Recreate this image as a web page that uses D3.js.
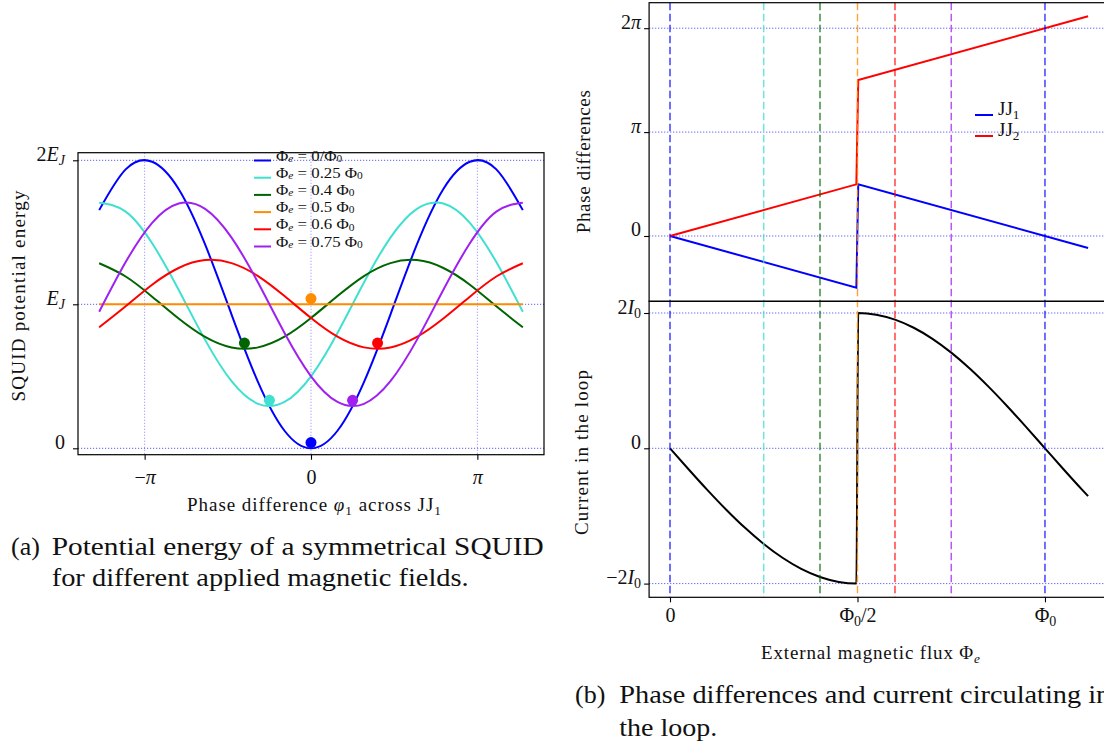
<!DOCTYPE html>
<html>
<head>
<meta charset="utf-8">
<script src="https://cdn.jsdelivr.net/npm/d3@7"></script>
<style>
  body { margin: 0; background: #fff; }
  svg { display: block; }
  text { font-family: "Liberation Serif", "DejaVu Serif", serif; fill: #111; }
</style>
</head>
<body>
<div id="chart"></div>
<script>
// ---------- (a) potential energy, in units of E_J, vs phase phi1 (rad)
const phi = [-4, -3.5, -3, -2.5, -2, -1.5, -1, -0.5, 0, 0.5, 1, 1.5, 2, 2.5, 3, 3.5, 4];
const u000 = [1.654, 1.937, 1.990, 1.801, 1.416, 0.929, 0.460, 0.122, 0, 0.122, 0.460, 0.929, 1.416, 1.801, 1.990, 1.937, 1.654];
const u025 = [1.705, 1.644, 1.424, 1.101, 0.753, 0.466, 0.309, 0.322, 0.500, 0.801, 1.151, 1.463, 1.663, 1.700, 1.566, 1.293, 0.948];
const u040 = [1.285, 1.193, 1.053, 0.901, 0.773, 0.700, 0.701, 0.775, 0.905, 1.057, 1.196, 1.286, 1.307, 1.252, 1.136, 0.986, 0.840];
const u050 = [1, 1, 1, 1, 1, 1, 1, 1, 1, 1, 1, 1, 1, 1, 1, 1, 1];
const u060 = [0.840, 0.986, 1.136, 1.252, 1.307, 1.286, 1.196, 1.057, 0.905, 0.775, 0.701, 0.700, 0.773, 0.901, 1.053, 1.193, 1.285];
const u075 = [0.948, 1.293, 1.566, 1.700, 1.663, 1.463, 1.151, 0.801, 0.500, 0.322, 0.309, 0.466, 0.753, 1.101, 1.424, 1.644, 1.705];
const energySeries = [u000, u025, u040, u050, u060, u075];
const fluxValues = ["0/", "0.25 ", "0.4 ", "0.5 ", "0.6 ", "0.75 "];
const colors = ["#0000ff", "#40e0d0", "#006400", "#ff8c00", "#ff0000", "#a020f0"];
// minimum of each well (ball sitting in it)
const minPhi = [0, -0.785, -1.257, 0, 1.257, 0.785];
const minU = [0.04, 0.333, 0.731, 1.04, 0.731, 0.333];

// ---------- (b) phases (units of pi) and loop current (units of I0) vs flux (units of Phi0)
const fluxPhase = [0, 0.497, 0.502, 1.115];
const phaseJJ1 = [0, -0.497, 0.498, -0.115];
const phaseJJ2 = [0, 0.497, 1.502, 2.115];
const fluxCurrent = [0, 0.05, 0.1, 0.15, 0.2, 0.25, 0.3, 0.35, 0.4, 0.45, 0.497,
                     0.502, 0.55, 0.6, 0.65, 0.7, 0.75, 0.8, 0.85, 0.9, 0.95, 1.0, 1.05, 1.1, 1.115];
const current = [0, -0.313, -0.618, -0.908, -1.176, -1.414, -1.618, -1.782, -1.902, -1.975, -2.0,
                 2.0, 1.975, 1.902, 1.782, 1.618, 1.414, 1.176, 0.908, 0.618, 0.313, 0, -0.313, -0.618, -0.707];
const markFlux = [0, 0.25, 0.4, 0.5, 0.6, 0.75, 1];
const markColors = ["#0000ff", "#40e0d0", "#006400", "#ff8c00", "#ff0000", "#a020f0", "#0000ff"];

const W = 1104, H = 747;
const TICK_FS = 20;
const svg = d3.select("#chart").append("svg")
    .attr("width", W)
    .attr("height", H);

// write text with italic / subscript pieces
function setMath(t, parts, fs, subShift, subSize) {
  subShift = subShift === undefined ? 0.2 : subShift;
  subSize = subSize || 0.7;
  t.text(null);
  let shift = 0;
  parts.forEach(function(p) {
    const st = p[1] || "";
    const sub = st.indexOf("s") >= 0;
    const target = sub ? fs * subShift : 0;
    t.append("tspan")
      .text(p[0])
      .attr("dy", target - shift)
      .attr("font-size", sub ? fs * subSize : fs)
      .attr("font-style", st.indexOf("i") >= 0 ? "italic" : "normal");
    shift = target;
  });
}

function gridLine(g, x1, y1, x2, y2, op) {
  g.append("line")
    .attr("x1", x1).attr("y1", y1).attr("x2", x2).attr("y2", y2)
    .style("stroke", "#0000ff")
    .style("stroke-opacity", op)
    .style("stroke-width", 1)
    .style("stroke-dasharray", "1.2,1.8");
}

/* ======================= (a) ======================= */
const xL = d3.scaleLinear().domain([-4.4, 4.4]).range([78, 544]);
const yL = d3.scaleLinear().domain([-0.0444, 2.0528]).range([454.7, 152.7]);

const gA = svg.append("g");
[-Math.PI, 0, Math.PI].forEach(v => gridLine(gA, xL(v), yL.range()[1], xL(v), yL.range()[0], 0.4));
[0, 1, 2].forEach(v => gridLine(gA, xL.range()[0], yL(v), xL.range()[1], yL(v), 0.65));

const lineA = d3.line()
    .x((d, i) => xL(phi[i]))
    .y(d => yL(d))
    .curve(d3.curveNatural);

gA.selectAll("path.energy")
    .data(energySeries)
    .enter().append("path")
    .attr("class", "energy")
    .attr("d", lineA)
    .style("fill", "none")
    .style("stroke", (d, i) => colors[i])
    .style("stroke-width", 2);

gA.selectAll("circle")
    .data(minPhi)
    .enter().append("circle")
    .attr("cx", d => xL(d))
    .attr("cy", (d, i) => yL(minU[i]))
    .attr("r", 5.5)
    .style("fill", (d, i) => colors[i]);

gA.append("rect")
    .attr("x", 78).attr("y", 152.7)
    .attr("width", 466).attr("height", 302)
    .style("fill", "none").style("stroke", "#000").style("stroke-width", 1.2);

// axes
const axAx = gA.append("g")
    .attr("transform", "translate(0," + yL.range()[0] + ")")
    .call(d3.axisBottom(xL).tickValues([-Math.PI, 0, Math.PI]).tickSize(5));
axAx.select(".domain").remove();
const xLabelsA = [[["−"], ["π", "i"]], [["0"]], [["π", "i"]]];
axAx.selectAll(".tick text")
    .attr("y", 29.5).attr("dy", 0)
    .each(function(d, i) { setMath(d3.select(this), xLabelsA[i], TICK_FS); });

const ayAx = gA.append("g")
    .attr("transform", "translate(78,0)")
    .call(d3.axisLeft(yL).tickValues([0, 1, 2]).tickSize(5));
ayAx.select(".domain").remove();
const yLabelsA = [[["0"]], [["E", "i"], ["J", "si"]], [["2"], ["E", "i"], ["J", "si"]]];
ayAx.selectAll(".tick text")
    .attr("x", -13).attr("dy", "0.32em")
    .each(function(d, i) { setMath(d3.select(this), yLabelsA[i], TICK_FS); });

[axAx, ayAx].forEach(a => a.attr("font-family", null).attr("font-size", null)
    .selectAll("line").style("stroke", "#000").style("stroke-width", 1.1));

setMath(gA.append("text")
    .attr("x", 314).attr("y", 510.7)
    .attr("text-anchor", "middle")
    .attr("textLength", 254),
  [["Phase difference "], ["φ", "i"], ["1", "s"], [" across JJ"], ["1", "s"]], 19);

gA.append("text")
    .attr("transform", "translate(25,296) rotate(-90)")
    .attr("text-anchor", "middle")
    .attr("font-size", 19)
    .attr("textLength", 211)
    .text("SQUID potential energy");

// legend
const legA = gA.selectAll("g.leg")
    .data(fluxValues)
    .enter().append("g")
    .attr("class", "leg")
    .attr("transform", (d, i) => "translate(254," + (160.5 + 17.2 * i) + ")");
legA.append("line")
    .attr("x1", 0).attr("x2", 17)
    .style("stroke", (d, i) => colors[i])
    .style("stroke-width", 2);
legA.append("text")
    .attr("x", 22).attr("dy", "0.3em")
    .each(function(d) {
      const t = d3.select(this);
      setMath(t, [["Φ"], ["e", "si"], [" = " + d + "Φ"], ["0", "s"]], 15, 0.08, 0.68);
      t.attr("textLength", this.getComputedTextLength() * 1.12)
       .attr("lengthAdjust", "spacingAndGlyphs");
    });

// caption (a)
gA.append("text").attr("x", 11).attr("y", 555).attr("font-size", 26).text("(a)");
gA.append("text").attr("x", 51.7).attr("y", 555).attr("font-size", 26)
    .attr("textLength", 492).attr("lengthAdjust", "spacingAndGlyphs")
    .text("Potential energy of a symmetrical SQUID");
gA.append("text").attr("x", 51.7).attr("y", 585.7).attr("font-size", 26)
    .attr("textLength", 417).attr("lengthAdjust", "spacingAndGlyphs")
    .text("for different applied magnetic fields.");

/* ======================= (b) ======================= */
const xR = d3.scaleLinear().domain([-0.05575, 1.17075]).range([649.1, 1109]);
const yP = d3.scaleLinear().domain([-0.6285, 2.2454]).range([301.3, 2.7]);
const yI = d3.scaleLinear().domain([-2.2025, 2.173]).range([597.3, 301.3]);

const gB = svg.append("g");
[0, 1, 2].forEach(v => gridLine(gB, xR.range()[0], yP(v), xR.range()[1], yP(v), 0.65));
[-2, 0, 2].forEach(v => gridLine(gB, xR.range()[0], yI(v), xR.range()[1], yI(v), 0.65));

const phaseLine = d3.line()
    .x((d, i) => xR(fluxPhase[i]))
    .y(d => yP(d));
gB.selectAll("path.phase")
    .data([phaseJJ1, phaseJJ2])
    .enter().append("path")
    .attr("class", "phase")
    .attr("d", phaseLine)
    .style("fill", "none")
    .style("stroke", (d, i) => i ? "#ff0000" : "#0000ff")
    .style("stroke-width", 2);

gB.append("path")
    .datum(current)
    .attr("d", d3.line()
      .x((d, i) => xR(fluxCurrent[i]))
      .y(d => yI(d))
      .curve(d3.curveMonotoneX))
    .style("fill", "none")
    .style("stroke", "#000")
    .style("stroke-width", 2);

gB.selectAll("line.mark")
    .data(markFlux)
    .enter().append("line")
    .attr("class", "mark")
    .attr("x1", d => xR(d)).attr("x2", d => xR(d))
    .attr("y1", yP.range()[1]).attr("y2", yI.range()[0])
    .style("stroke", (d, i) => markColors[i])
    .style("stroke-opacity", 0.8)
    .style("stroke-width", 1.4)
    .style("stroke-dasharray", "7.5,3.5");

gB.append("rect")
    .attr("x", 649.1).attr("y", 2.7)
    .attr("width", 460).attr("height", 298.6)
    .style("fill", "none").style("stroke", "#000").style("stroke-width", 1.2);
gB.append("rect")
    .attr("x", 649.1).attr("y", 301.3)
    .attr("width", 460).attr("height", 296)
    .style("fill", "none").style("stroke", "#000").style("stroke-width", 1.2);

const bxAx = gB.append("g")
    .attr("transform", "translate(0," + yI.range()[0] + ")")
    .call(d3.axisBottom(xR).tickValues([0, 0.5, 1]).tickSize(5));
bxAx.select(".domain").remove();
const xLabelsB = [[["0"]], [["Φ"], ["0", "s"], ["/2"]], [["Φ"], ["0", "s"]]];
bxAx.selectAll(".tick text")
    .attr("y", 24.5).attr("dy", 0)
    .each(function(d, i) { setMath(d3.select(this), xLabelsB[i], TICK_FS); });

const byTop = gB.append("g")
    .attr("transform", "translate(649.1,0)")
    .call(d3.axisLeft(yP).tickValues([0, 1, 2]).tickSize(5));
byTop.select(".domain").remove();
const yLabelsP = [[["0"]], [["π", "i"]], [["2"], ["π", "i"]]];
byTop.selectAll(".tick text")
    .attr("x", -8).attr("dy", "0.32em")
    .each(function(d, i) { setMath(d3.select(this), yLabelsP[i], TICK_FS); });

const byBot = gB.append("g")
    .attr("transform", "translate(649.1,0)")
    .call(d3.axisLeft(yI).tickValues([-2, 0, 2]).tickSize(5));
byBot.select(".domain").remove();
const yLabelsI = [[["−2"], ["I", "i"], ["0", "s"]], [["0"]], [["2"], ["I", "i"], ["0", "s"]]];
byBot.selectAll(".tick text")
    .attr("x", -8).attr("dy", "0.32em")
    .each(function(d, i) { setMath(d3.select(this), yLabelsI[i], TICK_FS); });

[bxAx, byTop, byBot].forEach(a => a.attr("font-family", null).attr("font-size", null)
    .selectAll("line").style("stroke", "#000").style("stroke-width", 1.1));

gB.append("text")
    .attr("transform", "translate(590,161.7) rotate(-90)")
    .attr("text-anchor", "middle")
    .attr("font-size", 19)
    .attr("textLength", 143)
    .text("Phase differences");
gB.append("text")
    .attr("transform", "translate(588,452.5) rotate(-90)")
    .attr("text-anchor", "middle")
    .attr("font-size", 19)
    .attr("textLength", 165)
    .text("Current in the loop");
setMath(gB.append("text")
    .attr("x", 870.5).attr("y", 659.3)
    .attr("text-anchor", "middle")
    .attr("textLength", 219),
  [["External magnetic flux Φ"], ["e", "si"]], 19);

// legend JJ1 / JJ2
const legB = gB.selectAll("g.legb")
    .data(["1", "2"])
    .enter().append("g")
    .attr("class", "legb")
    .attr("transform", (d, i) => "translate(975," + (115 + 21 * i) + ")");
legB.append("line")
    .attr("x1", 0).attr("x2", 18)
    .style("stroke", (d, i) => i ? "#ff0000" : "#0000ff")
    .style("stroke-width", 2);
legB.append("text")
    .attr("x", 23).attr("dy", "0.3em")
    .each(function(d) { setMath(d3.select(this), [["JJ"], [d, "s"]], 19); });

// caption (b)
gB.append("text").attr("x", 575).attr("y", 703.3).attr("font-size", 26).text("(b)");
gB.append("text").attr("x", 619.3).attr("y", 703.3).attr("font-size", 26)
    .attr("textLength", 491).attr("lengthAdjust", "spacingAndGlyphs")
    .text("Phase differences and current circulating in");
gB.append("text").attr("x", 619.3).attr("y", 735.7).attr("font-size", 26)
    .attr("textLength", 98).attr("lengthAdjust", "spacingAndGlyphs")
    .text("the loop.");
</script>
</body>
</html>
